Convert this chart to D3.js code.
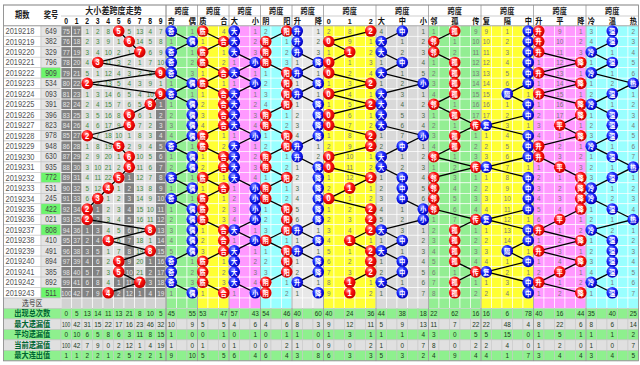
<!DOCTYPE html>
<html><head><meta charset="utf-8">
<script src="https://cdn.jsdelivr.net/npm/d3@7"></script>
<style>body{margin:0;background:#fff}svg{display:block}</style>
</head><body><svg id="c" width="640" height="365"></svg>
<script>
const periods = ["2019218","2019219","2019220","2019221","2019222","2019223","2019224","2019225","2019226","2019227","2019228","2019229","2019230","2019231","2019232","2019233","2019234","2019235","2019236","2019237","2019238","2019239","2019240","2019241","2019242","2019243"];
const draws = ["649","382","329","796","909","534","093","391","396","823","978","948","630","935","772","531","245","422","021","808","410","491","894","385","892","511"];
const spans = [5,6,7,3,9,2,9,8,6,6,2,5,6,6,5,4,3,2,2,8,4,8,5,5,7,4];
const digitLabels = ["0","1","2","3","4","5","6","7","8","9"];
const digitStartMiss = [75,17,1,2,8,0,5,13,4,7];

const oddEvenLabels = ["奇","偶"];
const oddEvenStates = [0,1,0,0,0,1,0,1,1,1,1,0,1,1,0,1,0,1,1,1,1,1,0,0,0,1];
const oddEvenStart = [0,1];
const primeLabels = ["质","合"];
const primeStates = [0,1,0,0,1,0,1,1,1,1,0,0,1,1,0,1,0,0,0,1,1,1,0,0,0,1];
const primeStart = [0,4];
const sizeLabels = ["大","小"];
const sizeStates = [0,0,0,1,0,1,0,0,0,0,1,0,0,0,0,1,1,1,1,0,1,0,0,0,0,1];
const sizeStart = [0,1];
const yinYangLabels = ["阴","阳"];
const yinYangStates = [1,0,0,0,1,1,1,1,0,0,1,1,0,0,1,0,0,1,1,1,0,1,1,1,0,0];
const yinYangStart = [2,0];
const riseLabels = ["升","降"];
const riseStates = [0,0,0,1,0,1,0,1,1,1,1,0,0,1,1,1,1,1,1,0,1,0,1,1,0,1];
const riseStart = [0,1];
const mod3Labels = ["0","1","2"];
const mod3States = [2,0,1,0,0,2,0,2,0,0,2,2,0,0,2,1,0,2,2,2,1,2,2,2,1,1];
const mod3Start = [2,8,0];
const bmsLabels = ["大","中","小"];
const bmsStates = [1,0,0,1,0,2,0,0,0,0,2,1,0,0,1,1,1,2,2,0,1,0,1,1,0,1];
const bmsStart = [4,0,1];
const natLabels = ["邻","孤","传"];
const natStates = [1,0,0,1,1,1,1,0,1,2,1,1,0,2,0,0,0,0,2,1,1,1,1,2,1,1];
const natStart = [1,0,9];
const repLabels = ["复","隔","中"];
const repStates = [2,2,2,2,2,2,1,2,2,0,2,2,2,0,2,2,2,2,0,2,2,1,2,0,2,2];
const repStart = [9,1,0];
const trendLabels = ["升","平","降"];
const trendStates = [0,0,0,2,0,2,0,2,2,1,2,0,0,1,2,2,2,2,1,0,2,0,2,1,0,2];
const trendStart = [0,9,1];
const heatLabels = ["冷","温","热"];
const heatStates = [1,1,0,1,0,2,1,0,1,1,1,0,1,2,1,0,0,1,2,0,1,1,1,1,0,1];
const heatStart = [3,0,2];

const statTitles = ["出现总次数","最大遗漏值","平均遗漏值","当前遗漏值","最大连出值"];
const statTotals = [0,5,13,14,11,13,21,8,10,5, 45,null,55, 53,null,47, 57,null,43, 54,null,46, 40,null,60,
  40,null,24,null,36, 44,null,38,null,18, 22,null,62,null,16, 16,null,6,null,78, 40,null,16,null,44, 35,null,40,null,25];
const statMaxMiss = [100,42,31,15,22,17,16,23,46,32, 10,null,9, 5,null,5, 4,null,6, 4,null,6, 8,null,3,
  9,null,12,null,11, 5,null,9,null,13, 11,null,7,null,22, 22,null,48,null,4, 8,null,22,null,6, 8,null,6,null,14];
const statAvgMiss = [0,10,6,5,8,6,3,11,8,15, 1,null,0, 0,null,1, 0,null,1, 0,null,1, 1,null,0,
  1,null,3,null,1, 1,null,1,null,4, 3,null,0,null,5, 5,null,15,null,0, 1,null,5,null,1, 1,null,1,null,2];
const statCurMiss = [100,42,7,9,0,2,12,1,4,19, 1,null,0, 1,null,0, 1,null,0, 0,null,2, 1,null,0,
  9,null,0,null,2, 1,null,0,null,7, 8,null,0,null,2, 2,null,4,null,0, 1,null,2,null,0, 1,null,0,null,7];
const statMaxRun = [1,1,2,2,1,2,5,2,2,1, 9,null,10, 5,null,5, 6,null,4, 6,null,4, 3,null,8,
  6,null,3,null,3, 5,null,3,null,2, 4,null,9,null,4, 4,null,1,null,7, 3,null,4,null,4, 3,null,4,null,5];

const GREEN="#93ee93", YELLOW="#ffff33", PINK="#ff99ff", CYAN="#99ffff", GREY="#d9d9d9", PALE="#e8e8e8";
const sections = [
  {labels:oddEvenLabels, states:oddEvenStates, start:oddEvenStart, bg:GREEN, c:"b"},
  {labels:primeLabels, states:primeStates, start:primeStart, bg:YELLOW, c:"r"},
  {labels:sizeLabels, states:sizeStates, start:sizeStart, bg:PINK, c:"b"},
  {labels:yinYangLabels, states:yinYangStates, start:yinYangStart, bg:CYAN, c:"r"},
  {labels:riseLabels, states:riseStates, start:riseStart, bg:PALE, c:"b"},
  {labels:mod3Labels, states:mod3States, start:mod3Start, bg:YELLOW, c:"r"},
  {labels:bmsLabels, states:bmsStates, start:bmsStart, bg:GREY, c:"b"},
  {labels:natLabels, states:natStates, start:natStart, bg:GREEN, c:"r"},
  {labels:repLabels, states:repStates, start:repStart, bg:YELLOW, c:"b"},
  {labels:trendLabels, states:trendStates, start:trendStart, bg:PINK, c:"r"},
  {labels:heatLabels, states:heatStates, start:heatStart, bg:CYAN, c:"b"}
];

const svg = d3.select("#c");
const FONT = "'Liberation Sans','Noto Sans CJK SC',sans-serif";
const X0 = 61, CW = 10.5, NCOL = 55;
const x = d3.scaleLinear().domain([0, NCOL]).range([X0, X0 + CW*NCOL]);
const nRows = periods.length;
const TOP = 25.8, RH = 10.47;
const y = d3.scaleLinear().domain([0, nRows + 6]).range([TOP, TOP + RH*(nRows + 6)]);
const LEFT = 3.5, PCOL = 41, XRIGHT = x(NCOL);
const HTOP = 5, HMID = 16;

const defs = svg.append("defs");
[["r","#ffb0b0","#ff1010","#c80000"],["b","#9a9aff","#1a2aff","#0000b8"]].forEach(([id,a,b,c])=>{
  const g = defs.append("radialGradient").attr("id","g"+id).attr("cx","38%").attr("cy","32%").attr("r","68%");
  g.append("stop").attr("offset","0%").attr("stop-color",a);
  g.append("stop").attr("offset","45%").attr("stop-color",b);
  g.append("stop").attr("offset","100%").attr("stop-color",c);
});

const gBg = svg.append("g"), gGrid = svg.append("g"), gTxt = svg.append("g"),
      gLine = svg.append("g"), gCirc = svg.append("g");

function txt(g, cx, cy, s, o={}) {
  g.append("text").attr("transform", `translate(${cx},${cy}) scale(${o.sx||0.8},1)`)
   .attr("text-anchor","middle").attr("dominant-baseline","central")
   .attr("font-family", FONT).attr("font-size", o.size||8.5)
   .attr("font-weight", o.bold ? "bold" : "normal")
   .attr("fill", o.fill||"#333").text(s);
}
function cell(x0, y0, w, h, fill, stroke, sw) {
  gBg.append("rect").attr("x",x0).attr("y",y0).attr("width",w).attr("height",h)
    .attr("fill",fill).attr("stroke",stroke||"none").attr("stroke-width",sw||0.6);
}

// column meta
const colMeta = [];
digitLabels.forEach((d,i)=>colMeta.push({bg:"#dedede", digit:true}));
let ci = 10;
sections.forEach(s=>{
  s.col0 = ci; s.w = s.labels.length===2 ? 3 : 5;
  for (let k=0;k<s.w;k++) colMeta.push({bg:s.bg, sec:s});
  ci += s.w;
});

// header
cell(LEFT, HTOP, XRIGHT-LEFT, TOP-HTOP, "#ffffff", "#b0b0b0", 0.7);
gGrid.append("line").attr("x1",X0).attr("x2",XRIGHT).attr("y1",HMID).attr("y2",HMID).attr("stroke","#b0b0b0").attr("stroke-width",0.6);
txt(gTxt, (LEFT+PCOL)/2, (HTOP+TOP)/2, "期数", {bold:true, size:9, fill:"#222"});
txt(gTxt, (PCOL+X0)/2, (HTOP+TOP)/2, "奖号", {bold:true, size:9, fill:"#222"});
txt(gTxt, (x(0)+x(10))/2, (HTOP+HMID)/2+0.5, "大小差跨度走势", {bold:true, size:9, fill:"#222", sx:0.9});
digitLabels.forEach((d,i)=> txt(gTxt, x(i+0.5), (HMID+TOP)/2, d, {bold:true, size:8.5, fill:"#111"}));
sections.forEach(s=>{
  txt(gTxt, (x(s.col0)+x(s.col0+s.w))/2, (HTOP+HMID)/2+0.5, "跨度", {bold:true, size:8, fill:"#222", sx:0.9});
  s.labels.forEach((l,k)=> txt(gTxt, x(s.col0 + k*2 + 0.5), (HMID+TOP)/2, l, {bold:true, size:8, fill:"#111", sx:0.9}));
});

// data rows
const isPair = d => new Set(d.split("")).size < 3;
const lastIdx = digitLabels.map((_,v)=> spans.lastIndexOf(v));
periods.forEach((p,r)=>{
  const y0 = y(r), yc = y(r+0.5);
  cell(LEFT, y0, PCOL-LEFT, RH, "#ffffff", "#c4c4c4", 0.6);
  cell(PCOL, y0, X0-PCOL, RH, isPair(draws[r]) ? "#6cf56c" : "#e4e4e4", "#c4c4c4", 0.6);
  gTxt.append("text").attr("x", LEFT+2).attr("y", yc).attr("dominant-baseline","central")
    .attr("font-family", FONT).attr("font-size", 8.5).attr("fill","#555")
    .attr("textLength", 29).attr("lengthAdjust","spacingAndGlyphs").text(p);
  txt(gTxt, (PCOL+X0)/2, yc, draws[r], {size:8.5, fill:"#444"});
});

// digit area
const digitMiss = digitLabels.map((_,v)=>{
  const out=[]; let m = digitStartMiss[v];
  spans.forEach((s,r)=>{ m = (s===v) ? 0 : (r===0 ? digitStartMiss[v] : m+1); out.push(m); });
  return out;
});
spans.forEach((s,r)=>{
  digitLabels.forEach((d,v)=>{
    const dark = r > lastIdx[v];
    cell(x(v), y(r), CW, RH, dark ? "#828282" : "#dedede", "#ffffff", 0.7);
    if (s !== v) txt(gTxt, x(v+0.5), y(r+0.5), String(digitMiss[v][r]), {size:8, fill: dark ? "#e6e6e6" : "#3d8a3d"});
  });
});
gLine.append("path").attr("fill","none").attr("stroke","#000").attr("stroke-width",1.3)
  .attr("d", d3.line().x((s)=>x(s+0.5)).y((s,r)=>y(r+0.5))(spans));
spans.forEach((s,r)=>{
  gCirc.append("circle").attr("cx",x(s+0.5)).attr("cy",y(r+0.5)).attr("r",5.8).attr("fill","url(#gr)");
  txt(gCirc, x(s+0.5), y(r+0.5)+0.3, String(s), {size:8.5, bold:true, fill:"#fff", sx:0.9});
});

// sections
sections.forEach(s=>{
  const nS = s.labels.length;
  const miss = s.labels.map((_,k)=>{
    const out=[]; let m = s.start[k];
    s.states.forEach((st,r)=>{ m = (st===k) ? 0 : (r===0 ? s.start[k] : m+1); out.push(m); });
    return out;
  });
  s.states.forEach((st,r)=>{
    for (let c=0;c<s.w;c++) cell(x(s.col0+c), y(r), CW, RH, s.bg, "#ffffff", 0.6);
    s.labels.forEach((l,k)=>{
      if (st !== k) txt(gTxt, x(s.col0+k*2+0.5), y(r+0.5), String(miss[k][r]), {size:8, fill: s.bg===PALE||s.bg===GREY ? "#4a6a4a" : "#7a7a7a"});
    });
  });
  const cx = k => x(s.col0 + k*2 + 0.5);
  gLine.append("path").attr("fill","none").attr("stroke","#000").attr("stroke-width",1.3)
    .attr("d", d3.line().x(k=>cx(k)).y((k,r)=>y(r+0.5))(s.states));
  s.states.forEach((k,r)=>{
    gCirc.append("circle").attr("cx",cx(k)).attr("cy",y(r+0.5)).attr("r",5.8).attr("fill",`url(#g${s.c})`);
    txt(gCirc, cx(k), y(r+0.5)+0.3, s.labels[k], {size: /\d/.test(s.labels[k]) ? 8.5 : 7, bold:true, fill:"#fff", sx:0.9});
  });
  // section separators
  gGrid.append("line").attr("x1",x(s.col0)).attr("x2",x(s.col0)).attr("y1",HTOP).attr("y2",y(nRows+6))
    .attr("stroke","#9a9a9a").attr("stroke-width",0.8);
});
gGrid.append("line").attr("x1",x(10)).attr("x2",x(10)).attr("y1",HTOP).attr("y2",y(nRows+6)).attr("stroke","#9a9a9a").attr("stroke-width",0.8);

// 选号区 row
const rs = nRows;
cell(LEFT, y(rs), X0-LEFT, RH, "#e2e2e2", "#c4c4c4", 0.6);
txt(gTxt, (LEFT+X0)/2, y(rs+0.5), "选号区", {size:8.5, fill:"#333"});
colMeta.forEach((m,c)=> cell(x(c), y(rs), CW, RH, m.digit ? "#d2d2d2" : m.bg, "#ffffff", 0.6));

// stats rows
const statRows = [statTotals, statMaxMiss, statAvgMiss, statCurMiss, statMaxRun];
statRows.forEach((vals,i)=>{
  const rr = nRows + 1 + i;
  const bg = i % 2 === 0 ? "#8ef08e" : "#e0e0e0";
  cell(LEFT, y(rr), X0-LEFT, RH, bg, "#c4c4c4", 0.6);
  txt(gTxt, (LEFT+X0)/2, y(rr+0.5), statTitles[i], {size:8.5, bold:true, fill:"#063", sx:0.85});
  vals.forEach((v,c)=>{
    cell(x(c), y(rr), CW, RH, bg, "#c4c4c4", 0.5);
    if (v !== null) txt(gTxt, x(c+0.5), y(rr+0.5), String(v), {size:8, fill:"#1a3a1a", sx: String(v).length>2 ? 0.62 : 0.8});
  });
});

// outer border
gGrid.append("rect").attr("x",LEFT).attr("y",HTOP).attr("width",XRIGHT-LEFT).attr("height",y(nRows+6)-HTOP)
  .attr("fill","none").attr("stroke","#8a8a8a").attr("stroke-width",0.8);
gGrid.append("line").attr("x1",LEFT).attr("x2",XRIGHT).attr("y1",TOP).attr("y2",TOP).attr("stroke","#9a9a9a").attr("stroke-width",0.8);
</script></body></html>
